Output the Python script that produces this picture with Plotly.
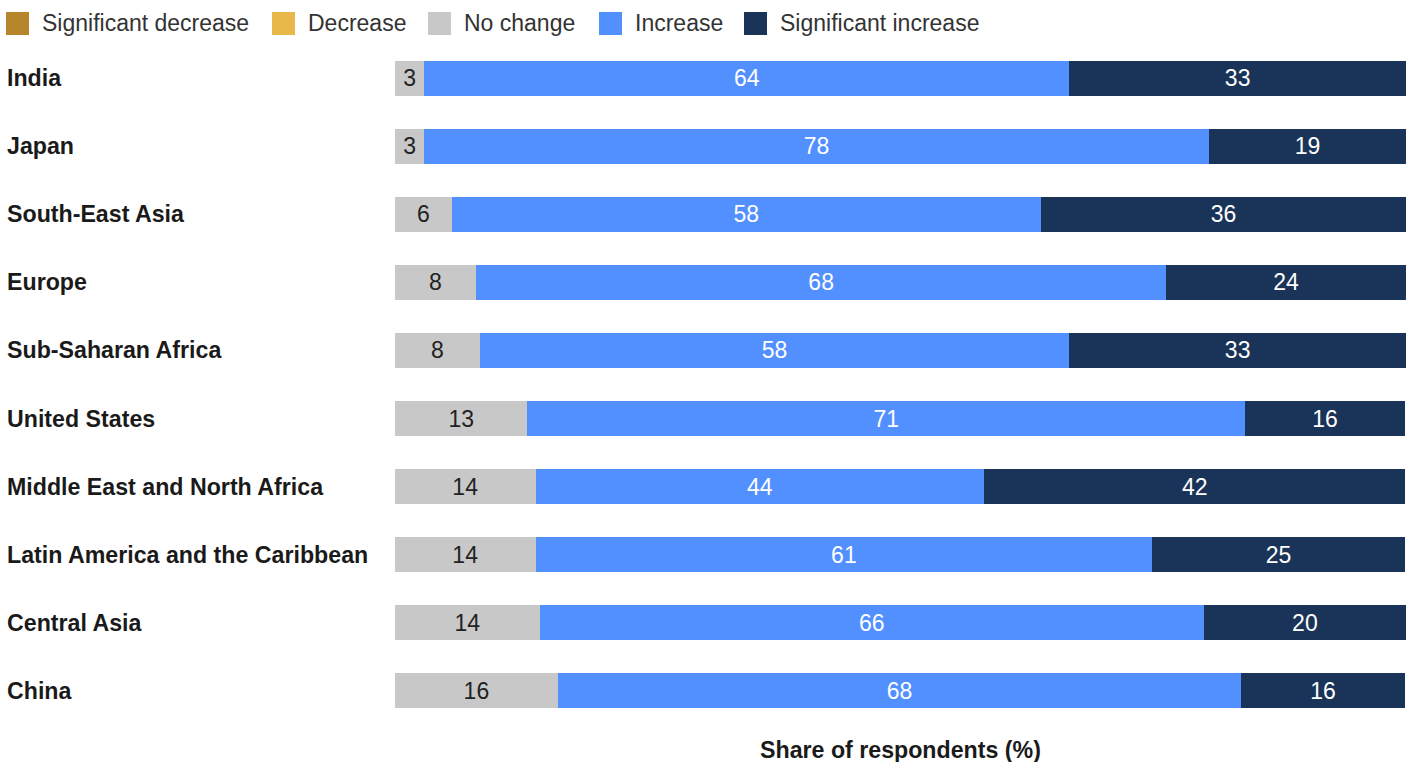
import plotly.graph_objects as go

# ---------------- data ----------------
regions = ["India", "Japan", "South-East Asia", "Europe", "Sub-Saharan Africa",
           "United States", "Middle East and North Africa",
           "Latin America and the Caribbean", "Central Asia", "China"]

series_names = ["Significant decrease", "Decrease", "No change", "Increase", "Significant increase"]

sig_decrease = [0, 0, 0, 0, 0, 0, 0, 0, 0, 0]
decrease     = [0, 0, 0, 0, 0, 0, 0, 0, 0, 0]
no_change    = [2.9, 2.9, 5.6, 8.0, 8.4, 13.1, 13.9, 13.9, 14.3, 16.1]
increase     = [63.8, 77.6, 58.3, 68.3, 58.3, 71.0, 44.4, 61.0, 65.7, 67.6]
sig_increase = [33.3, 19.5, 36.1, 23.7, 33.3, 15.8, 41.6, 25.0, 20.0, 16.2]

no_change_lbl    = [3, 3, 6, 8, 8, 13, 14, 14, 14, 16]
increase_lbl     = [64, 78, 58, 68, 58, 71, 44, 61, 66, 68]
sig_increase_lbl = [33, 19, 36, 24, 33, 16, 42, 25, 20, 16]

colors = ["#B8862A", "#E8B84B", "#C8C8C8", "#528FFF", "#1A3358"]
text_colors = ["#FFFFFF", "#222222", "#222222", "#FFFFFF", "#FFFFFF"]

axis_title = "Share of respondents (%)"

# ---------------- layout constants ----------------
W, H = 1414, 762
ML, MR, MT, MB = 395, 8, 44, 37
PW, PH = W - ML - MR, H - MT - MB
FONT = "Liberation Sans, Arial, Helvetica, sans-serif"


def px_x(px):
    return (px - ML) / PW


def px_y(py):
    return (H - MB - py) / PH


fig = go.Figure()

values = [sig_decrease, decrease, no_change, increase, sig_increase]
labels = [[None] * len(regions), [None] * len(regions), no_change_lbl, increase_lbl, sig_increase_lbl]

for name, vals, lbls, col, tcol in zip(series_names, values, labels, colors, text_colors):
    fig.add_trace(go.Bar(
        y=regions, x=vals, name=name, orientation="h",
        marker=dict(color=col, line=dict(width=0)),
        text=[str(l) if l is not None else "" for l in lbls],
        textposition="inside", insidetextanchor="middle",
        textfont=dict(family=FONT, size=23, color=tcol),
        hoverinfo="skip", showlegend=False,
    ))

shapes = []
annotations = []

# manual legend (square swatches + labels)
legend_sq_x = [6, 272, 428, 599, 744]
for name, col, sx in zip(series_names, colors, legend_sq_x):
    shapes.append(dict(type="rect", xref="paper", yref="paper",
                       x0=px_x(sx), x1=px_x(sx + 23), y0=px_y(35), y1=px_y(12),
                       fillcolor=col, line=dict(width=0)))
    annotations.append(dict(xref="paper", yref="paper", x=px_x(sx + 34), y=px_y(23),
                            xanchor="left", yanchor="middle", showarrow=False,
                            text=name, font=dict(family=FONT, size=23, color="#333333")))

# category labels, left aligned
for r in regions:
    annotations.append(dict(xref="paper", yref="y", x=px_x(5), y=r,
                            xanchor="left", yanchor="middle", showarrow=False,
                            text="<b>" + r + "</b>",
                            font=dict(family=FONT, size=23.2, color="#1A1A1A")))

# axis title
annotations.append(dict(xref="paper", yref="paper", x=0.5, y=px_y(750),
                        xanchor="center", yanchor="middle", showarrow=False,
                        text="<b>" + axis_title + "</b>",
                        font=dict(family=FONT, size=23.2, color="#1A1A1A")))

fig.update_layout(
    width=W, height=H,
    margin=dict(l=ML, r=MR, t=MT, b=MB),
    barmode="stack", bargap=0.486,
    plot_bgcolor="white", paper_bgcolor="white",
    xaxis=dict(range=[0, 100], visible=False, fixedrange=True),
    yaxis=dict(categoryorder="array", categoryarray=regions, autorange="reversed",
               showticklabels=False, showgrid=False, zeroline=False, showline=False,
               ticks=""),
    uniformtext=dict(minsize=22, mode="show"),
    shapes=shapes, annotations=annotations,
    showlegend=False,
    font=dict(family=FONT),
)

fig.write_html("out.html", config={"displayModeBar": False})
